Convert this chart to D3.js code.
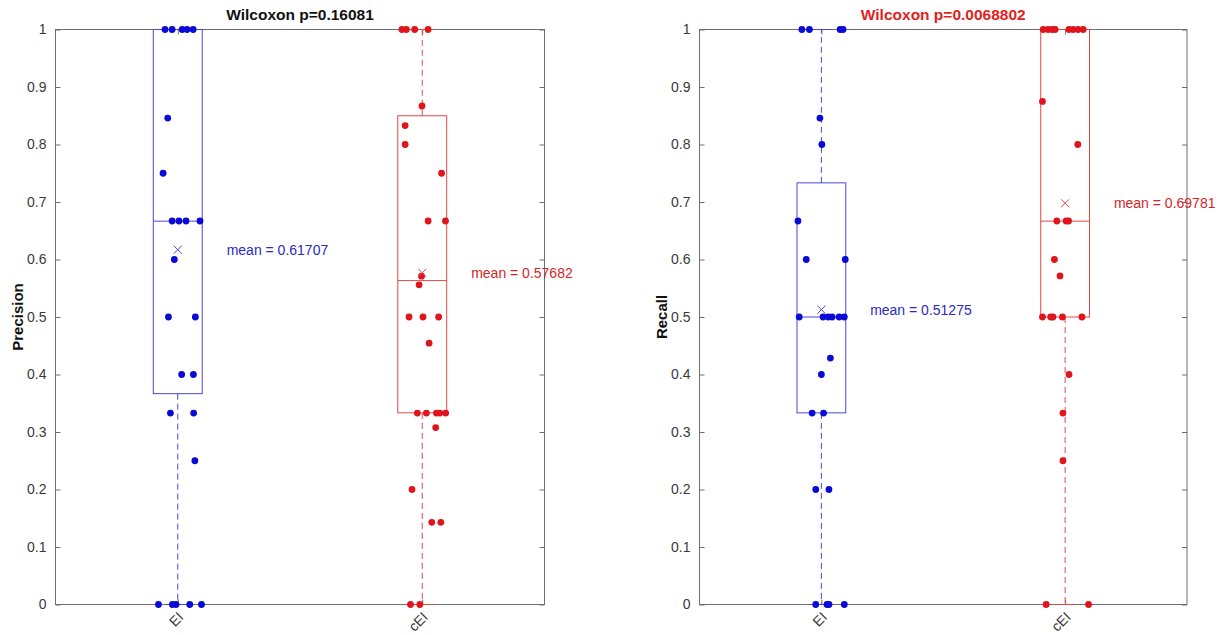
<!DOCTYPE html>
<html><head><meta charset="utf-8">
<script src="https://cdn.jsdelivr.net/npm/d3@7"></script>
<style>html,body{margin:0;padding:0;background:#fff;} svg{display:block;font-family:"Liberation Sans",Arial,Helvetica,sans-serif;}</style>
</head><body>
<svg id="chart" width="1225" height="635"></svg>
<script>
// ---------------- data ----------------
const categories = ["EI", "cEI"];
const yTickValues = [0, 0.1, 0.2, 0.3, 0.4, 0.5, 0.6, 0.7, 0.8, 0.9, 1];
const yTickLabels = ["0", "0.1", "0.2", "0.3", "0.4", "0.5", "0.6", "0.7", "0.8", "0.9", "1"];
const panelTitles = ["Wilcoxon p=0.16081", "Wilcoxon p=0.0068802"];
const panelYLabels = ["Precision", "Recall"];

// Precision, EI
const precisionEI = [1, 1, 1, 1, 1, 0.846, 0.75, 0.667, 0.667, 0.667, 0.667, 0.6, 0.5, 0.5, 0.4, 0.4, 0.333, 0.333, 0.25, 0, 0, 0, 0, 0];
const precisionEIJitter = [-0.052, -0.023, 0.018, 0.038, 0.063, -0.041, -0.060, -0.023, 0.005, 0.034, 0.091, -0.014, -0.038, 0.072, 0.016, 0.064, -0.030, 0.065, 0.070, -0.079, -0.022, -0.007, 0.049, 0.097];
// Precision, cEI
const precisionCEI = [1, 1, 1, 1, 0.867, 0.833, 0.8, 0.75, 0.667, 0.667, 0.571, 0.556, 0.5, 0.5, 0.5, 0.4545, 0.333, 0.333, 0.333, 0.333, 0.333, 0.3077, 0.2, 0.1429, 0.1429, 0, 0];
const precisionCEIJitter = [-0.083, -0.065, -0.031, 0.024, -0.001, -0.070, -0.070, 0.079, 0.024, 0.095, -0.003, -0.013, -0.054, 0.003, 0.067, 0.028, -0.020, 0.017, 0.058, 0.072, 0.096, 0.055, -0.042, 0.039, 0.076, -0.048, -0.010];
// Recall, EI
const recallEI = [1, 1, 1, 1, 0.846, 0.8, 0.667, 0.6, 0.6, 0.5, 0.5, 0.5, 0.5, 0.5, 0.5, 0.4286, 0.4, 0.333, 0.333, 0.2, 0.2, 0, 0, 0, 0];
const recallEIJitter = [-0.080, -0.049, 0.077, 0.089, -0.006, 0.002, -0.096, -0.062, 0.098, -0.091, 0.007, 0.028, 0.044, 0.073, 0.094, 0.037, 0.000, -0.038, 0.009, -0.023, 0.031, -0.023, 0.023, 0.031, 0.094];
// Recall, cEI
const recallCEI = [1, 1, 1, 1, 1, 1, 1, 1, 0.875, 0.8, 0.667, 0.667, 0.667, 0.6, 0.5714, 0.5, 0.5, 0.5, 0.5, 0.5, 0.4, 0.333, 0.25, 0, 0];
const recallCEIJitter = [-0.090, -0.070, -0.053, -0.041, 0.016, 0.033, 0.053, 0.074, -0.093, 0.052, -0.034, 0.004, 0.014, -0.044, -0.021, -0.093, -0.059, -0.050, -0.011, 0.069, 0.016, -0.009, -0.009, -0.078, 0.096];

// box statistics per category [EI, cEI]
const precisionQ1 = [0.3667, 0.3333];
const precisionMedian = [0.6667, 0.5633];
const precisionQ3 = [1, 0.85];
const precisionWhiskerLow = [0, 0];
const precisionWhiskerHigh = [1, 1];
const precisionMean = [0.61707, 0.57682];

const recallQ1 = [0.3333, 0.5];
const recallMedian = [0.5, 0.6667];
const recallQ3 = [0.7333, 1];
const recallWhiskerLow = [0, 0];
const recallWhiskerHigh = [1, 1];
const recallMean = [0.51275, 0.69781];

// ---------------- drawing ----------------
const svg = d3.select("#chart");
svg.append("rect").attr("width", 1225).attr("height", 635).attr("fill", "#fff");

const dotColors = ["#0a0ad8", "#e0141c"];
const boxColors = ["#4848d6", "#e04848"];
const meanTextColors = ["#2a2ac4", "#d42626"];
const titleColors = ["#111", "#e41e1e"];
const axisColor = "#6e6e6e";
const tickTextColor = "#3a3a3a";

const panels = [
  { x0: 55.5, x1: 544.5, values: [precisionEI, precisionCEI], jitter: [precisionEIJitter, precisionCEIJitter],
    q1: precisionQ1, med: precisionMedian, q3: precisionQ3, wl: precisionWhiskerLow, wh: precisionWhiskerHigh, mean: precisionMean },
  { x0: 699.5, x1: 1187, values: [recallEI, recallCEI], jitter: [recallEIJitter, recallCEIJitter],
    q1: recallQ1, med: recallMedian, q3: recallQ3, wl: recallWhiskerLow, wh: recallWhiskerHigh, mean: recallMean }
];
const yTop = 29.5, yBottom = 604.5;

panels.forEach((p, pi) => {
  const g = svg.append("g");
  const x = d3.scaleLinear().domain([0.5, 2.5]).range([p.x0, p.x1]);
  const y = d3.scaleLinear().domain([0, 1]).range([yBottom, yTop]);

  // axes box
  g.append("rect").attr("x", p.x0).attr("y", yTop).attr("width", p.x1 - p.x0).attr("height", yBottom - yTop)
    .attr("fill", "none").attr("stroke", axisColor).attr("stroke-width", 1);

  // y axis (left, inside ticks)
  const yAxis = d3.axisLeft(y).tickValues(yTickValues).tickFormat((d, i) => yTickLabels[i]).tickSizeInner(-5).tickSizeOuter(0).tickPadding(9);
  const ya = g.append("g").attr("transform", `translate(${p.x0},0)`).call(yAxis);
  ya.select(".domain").remove();
  ya.selectAll("line").attr("stroke", axisColor);
  ya.selectAll("text").attr("fill", tickTextColor).style("font-size", "14px").style("font-family", "'Liberation Sans',Arial,sans-serif");
  // right mirror ticks
  const yr = g.append("g").attr("transform", `translate(${p.x1},0)`).call(d3.axisRight(y).tickValues(yTickValues).tickSizeInner(-5).tickSizeOuter(0).tickFormat(""));
  yr.select(".domain").remove();
  yr.selectAll("line").attr("stroke", axisColor);

  // x axis
  const catPos = [1, 2];
  const xb = g.append("g").attr("transform", `translate(0,${yBottom})`).call(d3.axisBottom(x).tickValues(catPos).tickSizeInner(-5).tickSizeOuter(0).tickFormat(""));
  xb.select(".domain").remove();
  xb.selectAll("line").attr("stroke", axisColor);
  const xt = g.append("g").attr("transform", `translate(0,${yTop})`).call(d3.axisTop(x).tickValues(catPos).tickSizeInner(-5).tickSizeOuter(0).tickFormat(""));
  xt.select(".domain").remove();
  xt.selectAll("line").attr("stroke", axisColor);
  g.selectAll(".xlab").data(categories).enter().append("text")
    .attr("transform", (d, i) => `translate(${x(i + 1) + 3},${yBottom + 10}) rotate(-45)`)
    .attr("text-anchor", "end").attr("dominant-baseline", "central")
    .style("font-size", "14px").attr("fill", tickTextColor).text(d => d);

  const half = 0.1, capHalf = 0.05;
  categories.forEach((c, ci) => {
    const cx = ci + 1;
    const col = boxColors[ci];
    // whiskers (dashed)
    if (p.wh[ci] > p.q3[ci]) {
      g.append("line").attr("x1", x(cx)).attr("x2", x(cx)).attr("y1", y(p.q3[ci])).attr("y2", y(p.wh[ci]))
        .attr("stroke", col).attr("stroke-dasharray", "6,4").attr("stroke-width", 1);
    }
    if (p.wl[ci] < p.q1[ci]) {
      g.append("line").attr("x1", x(cx)).attr("x2", x(cx)).attr("y1", y(p.q1[ci])).attr("y2", y(p.wl[ci]))
        .attr("stroke", col).attr("stroke-dasharray", "6,4").attr("stroke-width", 1);
    }
    // caps
    [p.wh[ci], p.wl[ci]].forEach(v => {
      g.append("line").attr("x1", x(cx - capHalf)).attr("x2", x(cx + capHalf)).attr("y1", y(v)).attr("y2", y(v))
        .attr("stroke", col).attr("stroke-width", 1);
    });
    // box
    g.append("rect").attr("x", x(cx - half)).attr("width", x(cx + half) - x(cx - half))
      .attr("y", y(p.q3[ci])).attr("height", y(p.q1[ci]) - y(p.q3[ci]))
      .attr("fill", "none").attr("stroke", col).attr("stroke-width", 1);
    // median
    g.append("line").attr("x1", x(cx - half)).attr("x2", x(cx + half)).attr("y1", y(p.med[ci])).attr("y2", y(p.med[ci]))
      .attr("stroke", col).attr("stroke-width", 1);
    // points
    g.selectAll(null).data(p.values[ci]).enter().append("circle")
      .attr("cx", (d, i) => x(cx + p.jitter[ci][i])).attr("cy", d => y(d)).attr("r", 3.4)
      .attr("fill", dotColors[ci]);
    // mean marker x
    const mx = x(cx), my = y(p.mean[ci]), s = 4;
    g.append("path").attr("d", `M${mx - s},${my - s}L${mx + s},${my + s}M${mx - s},${my + s}L${mx + s},${my - s}`)
      .attr("stroke", col).attr("stroke-width", 1).attr("fill", "none");
    // mean text
    g.append("text").attr("x", x(cx + 0.2)).attr("y", my).attr("dominant-baseline", "central")
      .style("font-size", "14px").attr("fill", meanTextColors[ci])
      .text("mean = " + p.mean[ci].toFixed(5));
  });

  // title
  g.append("text").attr("x", (p.x0 + p.x1) / 2).attr("y", 20).attr("text-anchor", "middle")
    .style("font-size", "15.5px").style("font-weight", "bold").attr("fill", titleColors[pi]).text(panelTitles[pi]);
  // y label
  g.append("text").attr("transform", `translate(${p.x0 - 38},${(yTop + yBottom) / 2}) rotate(-90)`)
    .attr("text-anchor", "middle").attr("dominant-baseline", "central")
    .style("font-size", "15px").style("font-weight", "bold").attr("fill", "#111").text(panelYLabels[pi]);
});
</script>
</body></html>
